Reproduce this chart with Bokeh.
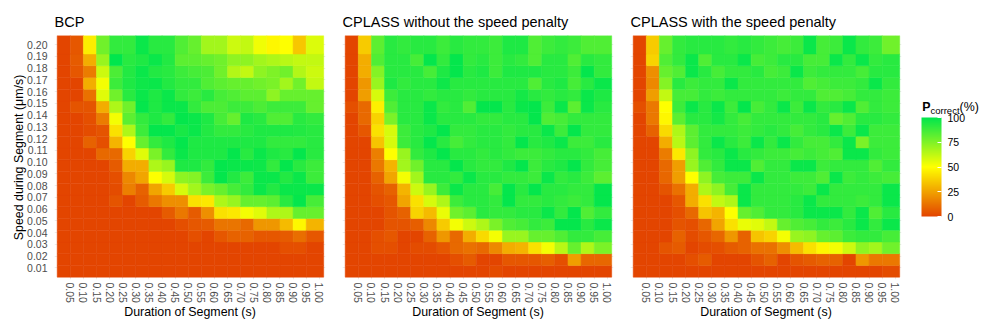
import numpy as np
from bokeh.plotting import figure
from bokeh.models import (ColumnDataSource, LinearColorMapper, ColorBar, FixedTicker,
                          NumeralTickFormatter, Range1d, Label)
from bokeh.layouts import row
from bokeh.embed import file_html
from bokeh.resources import INLINE

# ---------------- data ----------------
durations = [0.05, 0.10, 0.15, 0.20, 0.25, 0.30, 0.35, 0.40, 0.45, 0.50,
             0.55, 0.60, 0.65, 0.70, 0.75, 0.80, 0.85, 0.90, 0.95, 1.00]
speeds = [0.01, 0.02, 0.03, 0.04, 0.05, 0.06, 0.07, 0.08, 0.09, 0.10,
          0.11, 0.12, 0.13, 0.14, 0.15, 0.16, 0.17, 0.18, 0.19, 0.20]
titles = ["BCP", "CPLASS without the speed penalty", "CPLASS with the speed penalty"]
legend_ticks = [0, 25, 50, 75, 100]
x_label = "Duration of Segment (s)"
y_label = "Speed during Segment (\u03bcm/s)"

# P_correct (%) ; rows listed from speed 0.20 (top) down to 0.01 (bottom)
bcp_rows = [
    [0, 5, 45, 78, 90, 90, 98, 92, 92, 84, 80, 68, 68, 60, 62, 53, 48, 50, 35, 57],
    [0, 6, 28, 70, 100, 92, 94, 98, 93, 82, 82, 80, 78, 72, 72, 68, 66, 64, 62, 62],
    [0, 5, 15, 60, 85, 93, 98, 93, 92, 88, 86, 85, 78, 65, 62, 72, 75, 78, 65, 60],
    [0, 0, 28, 52, 88, 94, 97, 98, 93, 90, 90, 84, 82, 80, 80, 78, 76, 68, 78, 62],
    [0, 0, 12, 56, 78, 92, 98, 94, 98, 90, 88, 92, 86, 84, 82, 82, 72, 80, 80, 80],
    [0, 4, 4, 28, 66, 78, 99, 94, 98, 98, 90, 85, 85, 88, 88, 85, 88, 88, 88, 80],
    [0, 0, 3, 15, 52, 82, 90, 94, 90, 99, 98, 94, 86, 80, 94, 92, 84, 84, 92, 90],
    [0, 0, 2, 4, 42, 66, 88, 99, 99, 95, 98, 93, 90, 90, 92, 94, 94, 94, 93, 92],
    [0, 0, 8, 3, 30, 50, 80, 90, 94, 99, 94, 94, 94, 94, 94, 94, 90, 90, 90, 92],
    [0, 0, 0, 10, 10, 38, 56, 76, 90, 98, 94, 94, 94, 99, 92, 98, 94, 92, 99, 92],
    [0, 0, 0, 0, 6, 28, 28, 66, 70, 94, 94, 90, 99, 98, 98, 97, 90, 99, 92, 88],
    [0, 0, 0, 0, 3, 18, 26, 50, 58, 72, 74, 88, 99, 93, 88, 98, 98, 93, 98, 88],
    [0, 0, 0, 0, 2, 16, 8, 26, 36, 58, 68, 76, 80, 86, 90, 98, 93, 98, 98, 98],
    [0, 0, 0, 0, 4, 0, 6, 14, 20, 20, 42, 44, 66, 70, 80, 80, 82, 92, 99, 86],
    [0, 0, 0, 0, 0, 0, 0, 0, 6, 14, 6, 20, 42, 44, 52, 56, 66, 66, 80, 80],
    [0, 0, 0, 0, 0, 0, 0, 0, 0, 3, 5, 6, 13, 13, 10, 22, 22, 32, 48, 30],
    [0, 0, 0, 0, 0, 0, 0, 0, 0, 0, 3, 0, 5, 8, 8, 5, 5, 6, 11, 5],
    [0, 0, 0, 0, 0, 0, 0, 0, 0, 0, 0, 0, 0, 0, 0, 0, 0, 3, 3, 0],
    [0, 0, 0, 0, 0, 0, 0, 0, 0, 0, 0, 0, 0, 0, 0, 0, 0, 0, 0, 0],
    [0, 0, 0, 0, 0, 0, 0, 0, 0, 0, 0, 0, 0, 0, 0, 0, 0, 0, 0, 0],
]
cplass_nopen_rows = [
    [0, 36, 82, 92, 90, 92, 92, 88, 92, 90, 90, 88, 94, 94, 84, 88, 90, 88, 84, 84],
    [0, 28, 84, 92, 92, 86, 99, 90, 99, 90, 92, 88, 92, 90, 84, 92, 92, 84, 92, 90],
    [0, 28, 74, 92, 92, 92, 86, 94, 99, 92, 94, 88, 94, 94, 94, 92, 92, 88, 99, 90],
    [0, 22, 70, 94, 90, 92, 92, 97, 92, 92, 92, 92, 92, 92, 84, 92, 94, 86, 92, 98],
    [0, 24, 58, 88, 92, 92, 90, 92, 92, 90, 92, 92, 92, 96, 92, 90, 92, 90, 98, 94],
    [3, 10, 46, 84, 92, 92, 98, 90, 92, 84, 99, 99, 92, 98, 99, 88, 98, 82, 98, 92],
    [0, 10, 38, 76, 92, 92, 98, 92, 92, 92, 90, 90, 92, 92, 99, 84, 86, 90, 90, 90],
    [0, 5, 42, 58, 88, 92, 94, 99, 90, 90, 92, 92, 90, 92, 92, 98, 88, 99, 90, 90],
    [0, 0, 34, 58, 88, 92, 99, 92, 86, 90, 92, 92, 90, 99, 92, 94, 98, 88, 88, 92],
    [0, 0, 16, 50, 70, 90, 94, 99, 92, 92, 90, 92, 90, 88, 88, 90, 92, 92, 90, 86],
    [0, 0, 14, 30, 68, 78, 92, 92, 99, 92, 90, 90, 94, 99, 88, 92, 94, 99, 90, 86],
    [0, 0, 8, 26, 52, 68, 92, 92, 90, 98, 92, 92, 90, 90, 88, 98, 90, 92, 88, 82],
    [0, 0, 4, 8, 30, 60, 70, 88, 98, 92, 92, 86, 99, 92, 99, 92, 92, 90, 90, 99],
    [0, 0, 3, 5, 26, 42, 58, 66, 88, 92, 92, 90, 99, 90, 90, 92, 90, 88, 90, 99],
    [0, 0, 0, 4, 8, 38, 32, 54, 78, 82, 92, 90, 90, 92, 92, 98, 90, 99, 84, 90],
    [0, 0, 0, 4, 4, 7, 18, 36, 52, 60, 66, 76, 84, 86, 90, 88, 99, 99, 92, 98],
    [0, 0, 3, 5, 0, 0, 8, 22, 10, 28, 40, 52, 70, 70, 80, 80, 84, 90, 90, 86],
    [0, 0, 3, 3, 0, 2, 2, 5, 10, 12, 10, 18, 28, 30, 42, 52, 64, 80, 66, 76],
    [0, 0, 0, 0, 0, 0, 0, 0, 3, 6, 0, 0, 5, 5, 5, 7, 3, 24, 9, 9],
    [0, 0, 0, 0, 0, 0, 0, 0, 0, 0, 0, 2, 0, 0, 0, 0, 0, 0, 0, 0],
]
cplass_pen_rows = [
    [0, 36, 80, 90, 92, 92, 92, 90, 92, 90, 88, 86, 88, 98, 86, 88, 98, 90, 88, 78],
    [0, 38, 84, 90, 98, 84, 92, 92, 98, 86, 88, 92, 92, 86, 86, 98, 90, 98, 90, 92],
    [0, 20, 80, 84, 98, 92, 86, 90, 90, 92, 86, 88, 98, 88, 90, 90, 90, 86, 92, 92],
    [0, 18, 74, 92, 88, 90, 90, 98, 90, 90, 90, 90, 90, 84, 86, 88, 88, 90, 98, 90],
    [0, 24, 62, 86, 86, 90, 88, 90, 90, 90, 90, 88, 90, 90, 84, 84, 86, 90, 90, 88],
    [3, 14, 50, 88, 98, 92, 98, 88, 99, 86, 90, 98, 88, 98, 90, 92, 98, 84, 90, 88],
    [0, 14, 48, 82, 92, 92, 96, 90, 86, 90, 90, 90, 90, 90, 92, 80, 84, 92, 92, 90],
    [0, 8, 40, 66, 82, 90, 90, 90, 88, 90, 92, 90, 86, 90, 92, 98, 88, 98, 88, 88],
    [0, 0, 28, 64, 82, 90, 98, 92, 88, 98, 90, 98, 90, 86, 86, 90, 98, 76, 88, 88],
    [0, 0, 15, 44, 72, 90, 92, 98, 92, 90, 88, 88, 86, 88, 86, 84, 98, 98, 90, 88],
    [0, 0, 10, 24, 70, 84, 90, 98, 98, 84, 90, 90, 98, 98, 88, 90, 90, 90, 84, 90],
    [0, 0, 9, 24, 50, 72, 86, 88, 88, 98, 90, 90, 88, 88, 84, 98, 88, 90, 88, 86],
    [0, 0, 4, 12, 28, 66, 72, 86, 98, 90, 90, 90, 90, 88, 98, 90, 90, 90, 90, 98],
    [0, 0, 0, 5, 28, 42, 62, 66, 98, 90, 90, 90, 92, 98, 90, 90, 90, 88, 90, 98],
    [0, 0, 0, 3, 10, 34, 30, 50, 80, 84, 90, 90, 92, 98, 98, 98, 90, 98, 84, 92],
    [0, 0, 0, 4, 3, 9, 26, 42, 54, 56, 62, 80, 84, 86, 90, 88, 92, 98, 90, 98],
    [0, 0, 0, 8, 2, 5, 9, 22, 8, 34, 38, 52, 70, 72, 80, 82, 88, 90, 90, 86],
    [0, 0, 4, 6, 0, 2, 3, 6, 8, 12, 12, 20, 32, 42, 48, 52, 60, 72, 68, 78],
    [0, 0, 0, 0, 3, 6, 0, 0, 0, 4, 8, 0, 4, 6, 8, 8, 0, 22, 14, 14],
    [0, 0, 0, 0, 0, 0, 0, 0, 0, 0, 0, 0, 0, 0, 0, 0, 0, 0, 0, 2],
]
panels = [bcp_rows, cplass_nopen_rows, cplass_pen_rows]

# ---------------- style / layout ----------------
FONT = "Liberation Sans"
LOW, MID, HIGH = "#E34500", "#FFFF00", "#00E64D"
FRAME_W, FRAME_H = 271, 244
TOP_B, BOT_B = 35, 53
X_RANGE = (-0.0103, 1.0237)
X_TILE_END = 1.0168
Y_RANGE = (0.0, 0.2077)
ROW_SHIFT = 0.002


def _hex2rgb(h):
    h = h.lstrip("#")
    return np.array([int(h[i:i + 2], 16) for i in (0, 2, 4)], float)


stops = [_hex2rgb(c) for c in (LOW, MID, HIGH)]
palette = []
for t in np.linspace(0, 1, 256):
    if t <= 0.5:
        u = t / 0.5
        c = stops[0] * (1 - u) + stops[1] * u
    else:
        u = (t - 0.5) / 0.5
        c = stops[1] * (1 - u) + stops[2] * u
    palette.append("#%02x%02x%02x" % tuple(int(round(v)) for v in c))

mapper = LinearColorMapper(palette=palette, low=legend_ticks[0], high=legend_ticks[-1])

dur_step = durations[1] - durations[0]
spd_step = speeds[1] - speeds[0]


def make_panel(title, rows, show_y, b_left, b_right):
    values = rows[::-1]  # index 0 -> speeds[0]
    L, R, B, T, V = [], [], [], [], []
    for i, s in enumerate(speeds):
        for j, d in enumerate(durations):
            L.append(d - dur_step)
            R.append(d if j < len(durations) - 1 else X_TILE_END)
            B.append(s - spd_step + ROW_SHIFT)
            T.append(s + ROW_SHIFT if i < len(speeds) - 1 else Y_RANGE[1])
            V.append(values[i][j])
    src = ColumnDataSource(dict(left=L, right=R, bottom=B, top=T, value=V))

    p = figure(width=b_left + FRAME_W + b_right, height=TOP_B + FRAME_H + BOT_B,
               x_range=Range1d(*X_RANGE), y_range=Range1d(*Y_RANGE),
               output_backend="svg", toolbar_location=None,
               y_axis_location="left" if show_y else None,
               min_border_left=b_left, min_border_right=b_right,
               min_border_top=TOP_B, min_border_bottom=BOT_B)
    p.outline_line_color = None
    p.background_fill_color = "white"
    p.border_fill_color = "white"

    p.quad(left="left", right="right", bottom="bottom", top="top", source=src,
           fill_color={"field": "value", "transform": mapper},
           line_color={"field": "value", "transform": mapper}, line_width=0.5)

    p.title.text = title
    p.title.text_font = FONT
    p.title.text_font_size = "14.5px"
    p.title.text_font_style = "normal"
    p.title.text_color = "black"
    p.title.align = "left"
    p.title.standoff = 12

    xa = p.xaxis[0]
    xa.ticker = FixedTicker(ticks=durations)
    xa.formatter = NumeralTickFormatter(format="0.00")
    xa.major_label_orientation = "vertical"
    xa.major_label_text_font = FONT
    xa.major_label_text_font_size = "10.5px"
    xa.major_label_text_color = "#4D4D4D"
    xa.major_label_standoff = 3
    xa.axis_label = x_label
    xa.axis_label_text_font = FONT
    xa.axis_label_text_font_size = "12.4px"
    xa.axis_label_text_font_style = "normal"
    xa.axis_label_text_color = "black"
    xa.axis_label_standoff = -1
    xa.axis_line_color = None
    xa.major_tick_line_color = None
    xa.minor_tick_line_color = None
    xa.major_tick_out = 0
    xa.major_tick_in = 0

    if show_y:
        ya = p.yaxis[0]
        ya.ticker = FixedTicker(ticks=speeds)
        ya.formatter = NumeralTickFormatter(format="0.00")
        ya.major_label_text_font = FONT
        ya.major_label_text_font_size = "10.5px"
        ya.major_label_text_color = "#4D4D4D"
        ya.major_label_standoff = 7
        ya.axis_label = y_label
        ya.axis_label_text_font = FONT
        ya.axis_label_text_font_size = "12.4px"
        ya.axis_label_text_font_style = "normal"
        ya.axis_label_text_color = "black"
        ya.axis_label_standoff = -2
        ya.axis_line_color = None
        ya.major_tick_line_color = None
        ya.minor_tick_line_color = None
        ya.major_tick_out = 0
        ya.major_tick_in = 0

    p.xgrid.ticker = FixedTicker(ticks=durations)
    p.ygrid.ticker = FixedTicker(ticks=speeds)
    p.grid.grid_line_color = "#EBEBEB"
    p.grid.grid_line_width = 1
    return p


p1 = make_panel(titles[0], panels[0], True, 54, 8)
p2 = make_panel(titles[1], panels[1], False, 9, 8)
p3 = make_panel(titles[2], panels[2], False, 9, 5)

# ---------------- legend ----------------
LEG_W = 996 - (54 + FRAME_W + 8) - (9 + FRAME_W + 8) - (9 + FRAME_W + 5)
p4 = figure(width=LEG_W, height=TOP_B + FRAME_H + BOT_B, output_backend="svg",
            toolbar_location=None, x_axis_location=None, y_axis_location=None,
            min_border_left=0, min_border_right=0,
            min_border_top=TOP_B, min_border_bottom=BOT_B,
            x_range=Range1d(0, 1), y_range=Range1d(0, 1))
p4.outline_line_color = None
p4.grid.visible = False
p4.background_fill_color = "white"
p4.border_fill_color = "white"

# positions measured from the legend frame's bottom-left corner
cb = ColorBar(color_mapper=mapper, ticker=FixedTicker(ticks=legend_ticks),
              location=(15, 63), width=20, height=99,
              padding=0, margin=0, label_standoff=6,
              major_label_text_font=FONT, major_label_text_font_size="10.5px",
              major_label_text_color="black",
              major_tick_line_color="white", major_tick_in=4, major_tick_out=0,
              minor_tick_line_color=None, bar_line_color=None,
              background_fill_color=None, border_line_color=None)
p4.add_layout(cb)

p4.add_layout(Label(x=15.7, y=172.3, x_units="screen", y_units="screen", text="P",
                    text_font=FONT, text_font_size="12.4px", text_font_style="bold",
                    text_color="black", text_baseline="alphabetic"))
p4.add_layout(Label(x=24, y=169.5, x_units="screen", y_units="screen", text="correct",
                    text_font=FONT, text_font_size="9.5px",
                    text_color="black", text_baseline="alphabetic"))
p4.add_layout(Label(x=53, y=172.3, x_units="screen", y_units="screen", text="(%)",
                    text_font=FONT, text_font_size="12.4px",
                    text_color="black", text_baseline="alphabetic"))

layout = row(p1, p2, p3, p4)
open("out.html", "w").write(file_html(layout, INLINE))
